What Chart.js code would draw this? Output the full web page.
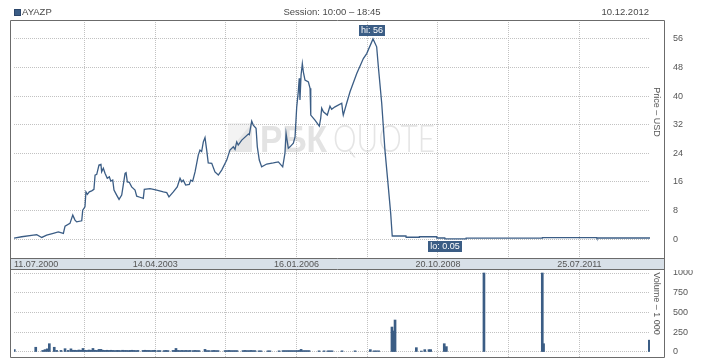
<!DOCTYPE html>
<html><head><meta charset="utf-8">
<script src="https://cdn.jsdelivr.net/npm/chart.js@4"></script>
<style>
html,body{margin:0;padding:0;background:#fff;}
#wrap{position:relative;width:718px;height:360px;overflow:hidden;font-family:"Liberation Sans",Arial,sans-serif;color:#4a4a4a;}
.hdr{position:absolute;top:6px;font-size:9.5px;line-height:12px;white-space:nowrap;z-index:2;}
#sq{position:absolute;left:14px;top:9px;width:5px;height:5px;background:#3b5d85;border:1px solid #2c466a;z-index:2;}
canvas{position:absolute;left:0;z-index:1;}
</style></head>
<body><div id="wrap">
<div id="sq"></div>
<div class="hdr" id="ticker" style="left:22px"></div>
<div class="hdr" id="session" style="left:14px;width:636px;text-align:center"></div>
<div class="hdr" id="date" style="right:69px"></div>
<canvas id="price" width="718" height="270" style="top:0"></canvas>
<canvas id="vol" width="718" height="90" style="top:270px"></canvas>
</div>
<script>
const tickerName = 'AYAZP';
const sessionText = 'Session: 10:00 \u2013 18:45';
const lastDate = '10.12.2012';
const priceTitle = 'Price \u2013 USD';
const volTitle = 'Volume \u2013 1 000';

// days since 11.07.2000
const xTickDays = [0, 504, 1007, 1511, 2015, 2519, 3023, 3527, 4031, 4535];
const xTickLabels = ['11.07.2000', '', '14.04.2003', '', '16.01.2006', '', '20.10.2008', '', '25.07.2011', ''];
const priceTicks = [0, 8, 16, 24, 32, 40, 48, 56];
const volTicks = [0, 250, 500, 750, 1000];

const priceDays = [
  0, 55, 138, 162, 198, 233, 280, 316, 352, 364, 399, 419, 435, 447, 483, 490, 506, 513, 523, 537,
  554, 570, 578, 590, 606, 620, 625, 637, 649, 665, 680, 690, 704, 713, 732, 749, 768, 779, 792, 799,
  808, 822, 839, 863, 875, 898, 922, 929, 970, 1018, 1065, 1089, 1105, 1136, 1164, 1184, 1196, 1207, 1224, 1250,
  1260, 1274, 1291, 1314, 1326, 1338, 1350, 1362, 1374, 1385, 1410, 1433, 1457, 1481, 1517, 1540, 1564, 1576, 1588, 1599,
  1624, 1671, 1678, 1695, 1706, 1726, 1735, 1749, 1766, 1802, 1849, 1885, 1916, 1932, 1940, 1956, 1968, 1992, 2004, 2016,
  2027, 2034, 2039, 2047, 2056, 2063, 2075, 2099, 2111, 2116, 2146, 2177, 2187, 2194, 2206, 2234, 2253, 2265, 2289, 2337,
  2344, 2348, 2372, 2396, 2444, 2491, 2515, 2560, 2586, 2598, 2622, 2645, 2669, 2686, 2697, 2795, 2796, 2890, 2891, 3014,
  3015, 3072, 3073, 3223, 3224, 3767, 3768, 4155, 4156, 4535
];
const priceValues = [
  0.25, 0.65, 1.1, 1.2, 0.45, 1.1, 1.6, 2.0, 1.6, 3.6, 4.4, 6.7, 5.3, 4.8, 5.1, 8.1, 9.0, 13.2, 12.5, 13.2,
  13.5, 13.9, 17.9, 18.1, 20.7, 20.9, 18.8, 19.8, 18.4, 17.0, 17.4, 16.2, 16.5, 13.7, 12.3, 11.1, 12.3, 15.1, 18.4, 18.6,
  16.0, 15.9, 14.6, 13.7, 12.0, 11.7, 11.4, 13.9, 14.1, 13.7, 13.2, 13.0, 11.8, 13.2, 14.6, 17.0, 16.0, 16.5, 15.1, 15.3,
  16.5, 16.2, 18.8, 23.5, 24.9, 24.5, 27.2, 28.4, 24.9, 21.3, 21.2, 18.8, 17.9, 19.3, 22.1, 24.9, 25.8, 25.1, 27.2, 26.3,
  27.7, 29.4, 29.2, 33.0, 31.9, 31.0, 25.8, 22.1, 20.2, 21.0, 21.3, 21.6, 20.2, 24.0, 29.6, 25.4, 25.8, 26.8, 28.6, 37.0,
  41.2, 45.0, 38.9, 45.9, 49.1, 46.8, 44.5, 44.0, 42.2, 34.7, 33.3, 31.6, 33.8, 36.6, 35.6, 34.7, 37.2, 36.3, 37.0, 38.0,
  35.6, 34.7, 38.0, 41.2, 46.3, 50.5, 51.9, 56, 53.8, 48.2, 38.0, 24.9, 14.6, 7.2, 0.85, 0.85, 0.5, 0.5, 0.65, 0.65,
  0.3, 0.3, 0.05, 0.05, 0.25, 0.25, 0.4, 0.4, 0.3, 0.3
];

const volDays = [
  2, 155, 205, 221, 237, 252, 287, 304, 335, 364, 387, 406,
  421, 435, 449, 463, 478, 492, 506, 521, 535, 549, 563, 578, 592, 606, 620, 635, 649, 663,
  677, 692, 706, 720, 734,
  745, 759, 774, 788, 802, 816,
  827, 841, 856, 870, 884,
  920, 934, 948, 963, 977, 991, 1005,
  1027, 1041,
  1070, 1084, 1098,
  1134, 1148, 1155, 1169, 1184, 1198, 1212, 1226, 1241, 1255,
  1276, 1291, 1305, 1319,
  1362, 1376, 1391,
  1412, 1426, 1440, 1455,
  1505, 1519, 1533, 1547, 1562,
  1576, 1590,
  1633, 1647, 1661, 1676, 1690, 1704, 1718,
  1747, 1761,
  1811, 1825,
  1890,
  1918, 1932, 1947, 1961, 1975, 1989,
  2004, 2018, 2032, 2047, 2061,
  2075, 2089, 2104,
  2175, 2211, 2239, 2253, 2268, 2339, 2432,
  2541, 2567, 2583, 2600, 2695, 2706, 2717, 2869, 2904, 2929, 2959, 2971, 3068, 3083, 3351, 3767, 3776, 4530
];
const volValues = [
  30, 60, 20, 30, 40, 105, 60, 20, 20, 42, 20, 40,
  22, 22, 20, 25, 22, 45, 22, 20, 25, 22, 45, 22, 20, 33, 33, 22, 20, 22,
  20, 22, 20, 18, 20,
  20, 18, 22, 20, 20, 18,
  20, 22, 20, 18, 20,
  20, 22, 20, 20, 18, 20, 22,
  18, 18,
  18, 20, 18,
  20, 20, 45, 20, 18, 20, 18, 20, 18, 20,
  18, 20, 18, 18,
  33, 18, 18,
  18, 20, 18, 18,
  18, 18, 20, 18, 18,
  18, 18,
  18, 20, 18, 18, 20, 18, 18,
  15, 15,
  15, 15,
  15,
  18, 18, 18, 18, 18, 18,
  18, 18, 20, 33, 18,
  18, 18, 18,
  15, 15, 15, 15, 15, 15, 15,
  30, 15, 15, 15, 316, 266, 405, 55, 12, 30, 30, 30, 105, 68, 1000, 1000, 105, 150
];

document.getElementById('ticker').textContent = tickerName;
document.getElementById('session').textContent = sessionText;
document.getElementById('date').textContent = lastDate;

const LINE = '#3b5d85';
const GRID = '#c2c2c2';
const TXT = '#555555';
const FRAME = '#6b6b6b';
const FAM = '"Liberation Sans", Arial, sans-serif';
const FONT = {family: FAM, size: 9};
const X_MIN = xTickDays[0], X_MAX = xTickDays[xTickDays.length - 1];
const FL = 10.5, FR = 664.5;

function vGrid(c) {
  return (c.index === 0 || c.index === xTickDays.length - 1) ? 'rgba(0,0,0,0)' : GRID;
}
function noPad(s) { s.paddingTop = 0; s.paddingBottom = 0; s.paddingLeft = 0; s.paddingRight = 0; }

function drawTag(ctx, text, cx, yEdge, above) {
  ctx.font = '9px ' + FAM;
  const w = Math.round(ctx.measureText(text).width) + 4;
  const h = 11;
  const x0 = Math.round(cx - w / 2);
  const y0 = above ? Math.round(yEdge - h) : Math.round(yEdge);
  ctx.fillStyle = LINE;
  ctx.fillRect(x0, y0, w, h);
  ctx.fillStyle = '#ffffff';
  ctx.textAlign = 'center';
  ctx.textBaseline = 'middle';
  ctx.fillText(text, x0 + w / 2, y0 + h / 2 + 0.5);
}

function vText(ctx, text, x, y) {
  ctx.save();
  ctx.translate(x, y);
  ctx.rotate(Math.PI / 2);
  ctx.font = '9px ' + FAM;
  ctx.fillStyle = TXT;
  ctx.textAlign = 'center';
  ctx.textBaseline = 'middle';
  ctx.fillText(text, 0, 0);
  ctx.restore();
}

const pricePanel = {
  id: 'pricePanel',
  beforeDraw(chart) {
    const c = chart.ctx, a = chart.chartArea;
    c.save();
    c.fillStyle = '#fff';
    c.fillRect(10, a.top, 655, chart.height - a.top);
    c.fillStyle = '#d8e0e8';
    c.fillRect(10, a.bottom, 654, 11);
    // watermark
    c.fillStyle = '#f3f3f3';
    c.fillRect(228, 123, 24, 29);
    c.fillStyle = '#e6e6e6';
    c.beginPath(); c.moveTo(228, 152); c.lineTo(252, 152); c.lineTo(252, 123); c.closePath(); c.fill();
    c.fillStyle = '#e3e3e3';
    c.textBaseline = 'alphabetic';
    c.textAlign = 'left';
    c.font = 'bold 37px ' + FAM;
    c.fillText('\u0420\u0411\u041A', 260, 152, 67);
    c.fillStyle = '#e5e5e5';
    c.font = '300 37px Lato, ' + FAM;
    c.fillText('QUOTE', 333, 152, 102);
    c.restore();
  },
  afterDatasetsDraw(chart) {
    const c = chart.ctx;
    const meta = chart.getDatasetMeta(0);
    let hi = 0, lo = 0;
    priceValues.forEach((v, i) => { if (v > priceValues[hi]) hi = i; if (v < priceValues[lo]) lo = i; });
    c.save();
    const hp = meta.data[hi], lp = meta.data[lo];
    drawTag(c, 'hi: ' + priceValues[hi], hp.x - 1, hp.y - 3, true);
    drawTag(c, 'lo: ' + priceValues[lo], lp.x, lp.y + 2, false);
    c.restore();
  },
  afterDraw(chart) {
    const c = chart.ctx, a = chart.chartArea;
    c.save();
    c.strokeStyle = FRAME;
    c.lineWidth = 1;
    c.beginPath();
    c.moveTo(FL, chart.height); c.lineTo(FL, a.top + 0.5); c.lineTo(FR, a.top + 0.5); c.lineTo(FR, chart.height);
    c.moveTo(FL, a.bottom + 0.5); c.lineTo(FR, a.bottom + 0.5);
    c.moveTo(FL, a.bottom + 11.5); c.lineTo(FR, a.bottom + 11.5);
    c.stroke();
    c.restore();
    vText(c, priceTitle, 656, 112);
  }
};

const volPanel = {
  id: 'volPanel',
  afterDraw(chart) {
    const c = chart.ctx, a = chart.chartArea;
    c.save();
    c.strokeStyle = FRAME;
    c.lineWidth = 1;
    c.beginPath();
    c.moveTo(FL, 0); c.lineTo(FL, a.bottom + 0.5); c.lineTo(FR, a.bottom + 0.5); c.lineTo(FR, 0);
    c.stroke();
    c.restore();
    vText(c, volTitle, 656, 33.5);
  }
};

new Chart(document.getElementById('price'), {
  type: 'line',
  data: {
    datasets: [{
      data: priceDays.map((d, i) => ({x: d, y: priceValues[i]})),
      borderColor: LINE, borderWidth: 1.3, pointRadius: 0, tension: 0, fill: false
    }]
  },
  options: {
    responsive: false, animation: false, devicePixelRatio: 1,
    layout: {padding: {left: 14, top: 20, right: 0, bottom: 0}, autoPadding: false},
    plugins: {legend: {display: false}, tooltip: {enabled: false}},
    scales: {
      x: {
        type: 'linear', position: 'bottom', min: X_MIN, max: X_MAX, bounds: 'data',
        afterBuildTicks: s => { s.ticks = xTickDays.map(v => ({value: v})); },
        afterFit: s => { s.height = 12; noPad(s); },
        ticks: {autoSkip: false, maxRotation: 0, minRotation: 0, align: 'inner', padding: 1, color: TXT, font: FONT,
          callback: (v, i) => xTickLabels[i]},
        grid: {color: vGrid, lineWidth: 1, drawTicks: false},
        border: {display: false, dash: [1, 1]}
      },
      y: {
        type: 'linear', position: 'right', min: -5.3, max: 61.3, bounds: 'data',
        afterBuildTicks: s => { s.ticks = priceTicks.map(v => ({value: v})); },
        afterFit: s => { s.width = 68; noPad(s); },
        ticks: {padding: 23, color: TXT, font: FONT, callback: v => String(v)},
        grid: {color: GRID, lineWidth: 1, drawTicks: false},
        border: {display: false, dash: [1, 1]}
      }
    }
  },
  plugins: [pricePanel]
});

new Chart(document.getElementById('vol'), {
  type: 'bar',
  data: {
    datasets: [{
      data: volDays.map((d, i) => ({x: d, y: volValues[i]})),
      backgroundColor: LINE, borderWidth: 0, barThickness: 2
    }]
  },
  options: {
    responsive: false, animation: false, devicePixelRatio: 1,
    layout: {padding: {left: 14, top: 0, right: 0, bottom: 3}, autoPadding: false},
    plugins: {legend: {display: false}, tooltip: {enabled: false}},
    scales: {
      x: {
        type: 'linear', position: 'bottom', min: X_MIN, max: X_MAX, bounds: 'data', offset: false,
        afterBuildTicks: s => { s.ticks = xTickDays.map(v => ({value: v})); },
        afterFit: s => { s.height = 0; noPad(s); },
        ticks: {display: false},
        grid: {color: vGrid, lineWidth: 1, drawTicks: false, offset: false},
        border: {display: false, dash: [1, 1]}
      },
      y: {
        type: 'linear', position: 'right', min: -63.3, max: 1038, bounds: 'data',
        afterBuildTicks: s => { s.ticks = volTicks.map(v => ({value: v})); },
        afterFit: s => { s.width = 68; noPad(s); },
        ticks: {padding: 23, color: TXT, font: FONT, callback: v => String(v)},
        grid: {color: GRID, lineWidth: 1, drawTicks: false},
        border: {display: false, dash: [1, 1]}
      }
    }
  },
  plugins: [volPanel]
});
</script>
</body></html>
